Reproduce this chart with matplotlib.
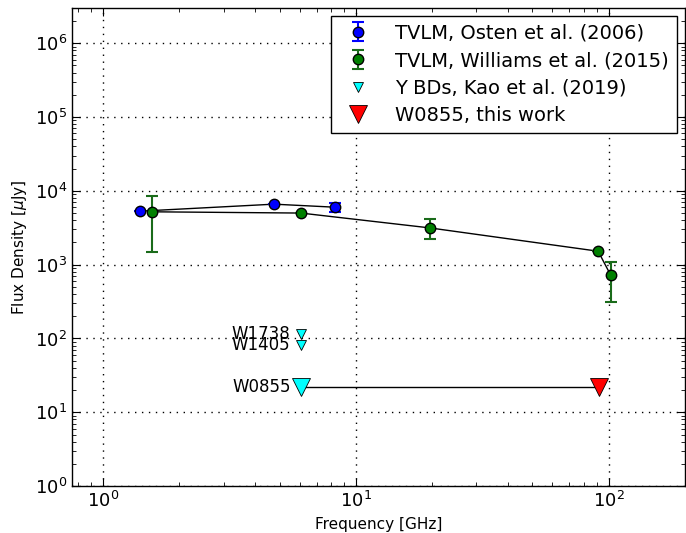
import matplotlib

matplotlib.use("Agg")
import matplotlib.pyplot as plt

# TVLM 513-46546, Osten et al. (2006)
osten_freq = [1.40, 4.75, 8.3]
osten_flux = [5300, 6600, 6000]
osten_err = [0, 0, 900]

# TVLM 513-46546, Williams et al. (2015)
williams_freq = [1.57, 6.07, 19.6, 91, 102]
williams_flux = [5200, 5000, 3150, 1520, 720]
williams_err_lo = [3720, 0, 950, 0, 410]
williams_err_hi = [3300, 0, 1050, 0, 360]

# Y dwarfs, Kao et al. (2019) upper limits
kao_names = ["W1738", "W1405"]
kao_freq = [6.1, 6.1]
kao_flux = [115, 81]

# W0855 upper limits
w0855_kao_freq = 6.1
w0855_kao_flux = 22
w0855_freq = 92
w0855_flux = 22

fig, ax = plt.subplots(figsize=(6.86, 5.33), dpi=100)

ax.plot(osten_freq, osten_flux, "k-", lw=1, zorder=2)
ax.plot(williams_freq, williams_flux, "k-", lw=1, zorder=2)
ax.plot([w0855_kao_freq, w0855_freq], [w0855_kao_flux, w0855_flux], "k-", lw=1, zorder=2)

h1 = ax.errorbar(osten_freq, osten_flux, yerr=osten_err, fmt="o", color="blue",
                 mec="k", ms=7.5, capsize=4, elinewidth=1.5, capthick=1.5,
                 label="TVLM, Osten et al. (2006)", zorder=3)
h2 = ax.errorbar(williams_freq, williams_flux, yerr=[williams_err_lo, williams_err_hi],
                 fmt="o", color="green", ecolor="#1a6b1a", mec="k", ms=7.5, capsize=4,
                 elinewidth=1.5, capthick=1.5,
                 label="TVLM, Williams et al. (2015)", zorder=3)
h3, = ax.plot(kao_freq, kao_flux, "v", color="cyan", mec="k", mew=0.6, ms=6.5,
              ls="none", label="Y BDs, Kao et al. (2019)", zorder=3)
ax.plot([w0855_kao_freq], [w0855_kao_flux], "v", color="cyan", mec="k", mew=0.6,
        ms=13, ls="none", zorder=3)
h4, = ax.plot([w0855_freq], [w0855_flux], "v", color="red", mec="k", mew=0.6, ms=13,
              ls="none", label="W0855, this work", zorder=3)

for name, f, s in zip(kao_names, kao_freq, kao_flux):
    ax.text(f * 0.905, s, name, ha="right", va="center", fontsize=12)
ax.text(w0855_kao_freq * 0.905, w0855_kao_flux, "W0855", ha="right", va="center",
        fontsize=12)

ax.set_xscale("log")
ax.set_yscale("log")
ax.set_xlim(0.755, 200)
ax.set_ylim(1, 3e6)
ax.set_xlabel("Frequency [GHz]", fontsize=11)
ax.set_ylabel(r"Flux Density [$\mu$Jy]", fontsize=11)
ax.tick_params(which="both", direction="in", top=True, right=True, labelsize=13)
ax.tick_params(which="major", length=6)
ax.tick_params(which="minor", length=3)
ax.grid(True, which="major", linestyle=(0, (1, 4)), color="k", lw=1)
for spine in ax.spines.values():
    spine.set_linewidth(1)

leg = ax.legend([h1, h2, h3, h4], [h.get_label() for h in [h1, h2, h3, h4]],
                loc="upper right", fontsize=14, numpoints=1, fancybox=False,
                framealpha=1, edgecolor="k", handletextpad=0.9, borderpad=0.4,
                labelspacing=0.44, handlelength=2.0, borderaxespad=0.4)
leg.get_frame().set_linewidth(1)

fig.subplots_adjust(left=0.105, right=0.998, top=0.985, bottom=0.088)
fig.savefig("out.png", dpi=100)
plt.close(fig)
